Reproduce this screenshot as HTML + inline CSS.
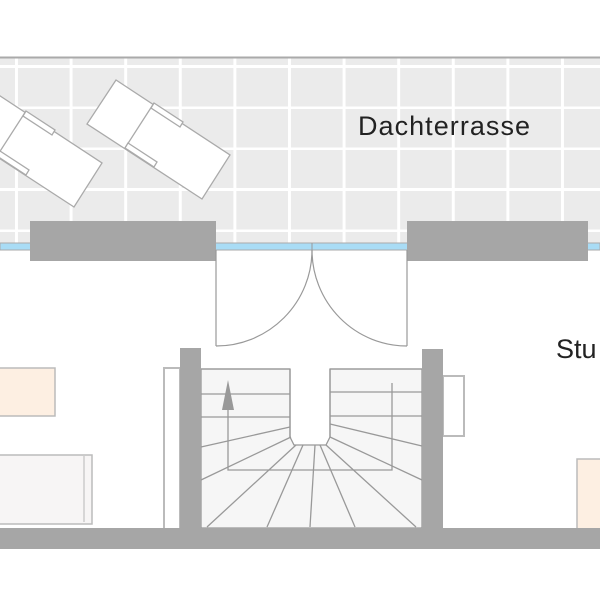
<!DOCTYPE html>
<html><head><style>html,body{margin:0;padding:0;background:#fff}svg{display:block}</style></head>
<body>
<svg width="600" height="600" viewBox="0 0 600 600" xmlns="http://www.w3.org/2000/svg">
<defs>
<pattern id="tiles" x="15" y="65" width="54.6" height="41" patternUnits="userSpaceOnUse">
<rect width="54.6" height="41" fill="#ebebeb"/>
<rect x="0" y="0" width="54.6" height="3" fill="#fff"/>
<rect x="0" y="0" width="3" height="41" fill="#fff"/>
</pattern>
<clipPath id="terr"><rect x="0" y="58" width="600" height="186"/></clipPath>
<g id="lounger">
<polygon points="116,80 87,124 202,199 230,155" fill="#fff"/>
<line x1="154" y1="103" x2="125" y2="148"/>
<polygon points="154,103 183,122 180,127 151,108" fill="#fff"/>
<polygon points="125,148 154,167 157,162 128,143" fill="#fff"/>
</g>
</defs>
<rect x="0" y="58" width="600" height="186" fill="url(#tiles)"/>
<line x1="0" y1="57.5" x2="600" y2="57.5" stroke="#aaa" stroke-width="2"/>
<!-- window strip -->
<rect x="0" y="243" width="600" height="7" fill="#a9dcf5" stroke="#aaa" stroke-width="1"/>
<rect x="30" y="221" width="186" height="40" fill="#a6a6a6"/>
<rect x="407" y="221" width="181" height="40" fill="#a6a6a6"/>
<line x1="312" y1="243" x2="312" y2="250" stroke="#999"/>
<!-- loungers -->
<g clip-path="url(#terr)" stroke="#aaa" stroke-width="1.3" fill="none">
<use href="#lounger"/>
<use href="#lounger" transform="translate(-128,8)"/>
</g>
<text x="358" y="135" font-family="Liberation Sans, sans-serif" font-size="27" fill="#222" textLength="172">Dachterrasse</text>
<!-- doors -->
<g fill="none" stroke="#999" stroke-width="1.2">
<line x1="216" y1="250" x2="216" y2="346"/>
<path d="M216,346 A96,96 0 0 0 312,250"/>
<line x1="407" y1="250" x2="407" y2="346"/>
<path d="M407,346 A95,96 0 0 1 312,250"/>
</g>
<text x="556" y="358" font-family="Liberation Sans, sans-serif" font-size="27" fill="#222">Stu</text>
<!-- furniture -->
<rect x="-1" y="368" width="56" height="48" fill="#fdefe2" stroke="#bbb" stroke-width="1.5"/>
<rect x="-1" y="455" width="93" height="69" fill="#f7f5f5" stroke="#bbb" stroke-width="1.5"/>
<line x1="84" y1="456" x2="84" y2="522" stroke="#ccc" stroke-width="1.5"/>
<rect x="577" y="459" width="25" height="70" fill="#fdefe2" stroke="#bbb" stroke-width="1.5"/>
<rect x="164" y="368" width="16" height="162" fill="#fff" stroke="#bbb" stroke-width="2"/>
<rect x="443" y="376" width="21" height="60" fill="#fff" stroke="#bbb" stroke-width="2"/>
<!-- stairs -->
<g stroke="#999" stroke-width="1.3" fill="#f6f6f6">
<path d="M201,369 H290 V437 L294,445 H326 L330,437 V369 H422 V528 H201 Z"/>
</g>
<rect x="292" y="369" width="36" height="68" fill="#fff"/>
<g stroke="#999" stroke-width="1.3" fill="none">
<line x1="290" y1="369" x2="290" y2="437"/>
<line x1="330" y1="369" x2="330" y2="437"/>
<line x1="201" y1="369" x2="290" y2="369"/>
<line x1="330" y1="369" x2="422" y2="369"/>
<line x1="201" y1="394" x2="290" y2="394"/>
<line x1="201" y1="417" x2="290" y2="417"/>
<line x1="201" y1="447" x2="290" y2="427"/>
<line x1="201" y1="480" x2="291" y2="437"/>
<line x1="330" y1="392" x2="422" y2="392"/>
<line x1="330" y1="416" x2="422" y2="416"/>
<line x1="330" y1="424" x2="422" y2="446"/>
<line x1="330" y1="437" x2="422" y2="480"/>
<line x1="207" y1="527" x2="296" y2="445"/>
<line x1="267" y1="527" x2="303" y2="445"/>
<line x1="310" y1="527" x2="315" y2="445"/>
<line x1="355" y1="527" x2="320" y2="445"/>
<line x1="416" y1="527" x2="326" y2="445"/>
<polyline points="228,410 228,470 392,470 392,383"/>
</g>
<polygon points="228,380 222,410 234,410" fill="#999"/>
<!-- walls -->
<rect x="180" y="348" width="21" height="182" fill="#a6a6a6"/>
<rect x="422" y="349" width="21" height="181" fill="#a6a6a6"/>
<rect x="0" y="528" width="600" height="21" fill="#a6a6a6"/>
</svg>
</body></html>
